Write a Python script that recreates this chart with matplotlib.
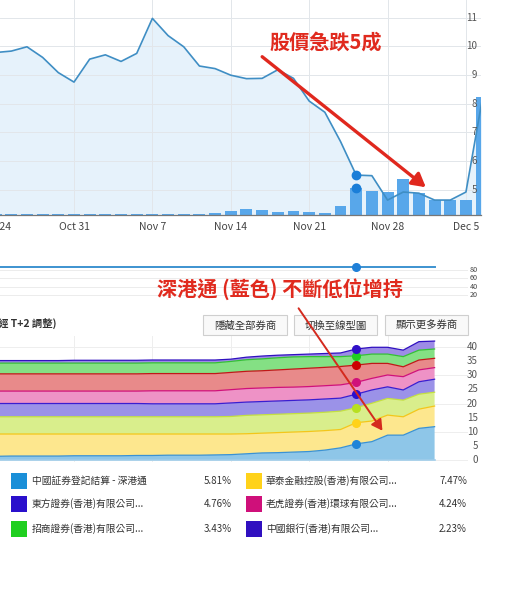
import matplotlib
matplotlib.use("Agg")
import matplotlib.pyplot as plt
import matplotlib.transforms as mtrans
import numpy as np
from matplotlib.patches import Rectangle, FancyArrowPatch

plt.rcParams['font.family'] = ['Noto Sans CJK TC', 'DejaVu Sans']

# ---- data (trading days from Oct 24) ----
price = [9.78, 9.83, 9.98, 9.61, 9.08, 8.75, 9.55, 9.70, 9.47, 9.75,
         10.97, 10.37, 9.98, 9.31, 9.22, 8.99, 8.87, 8.88, 9.18, 8.88,
         8.09, 7.70, 6.68, 5.51, 5.49, 4.64, 4.92, 4.88, 4.64, 4.64,
         4.92, 8.02]
volume = [0.5, 0.5, 0.5, 0.5, 0.5, 0.5, 0.5, 0.5, 0.5, 0.5,
          1.0, 0.5, 0.5, 0.5, 2, 4, 6, 5, 3, 4,
          3, 2, 9, 27, 24, 23, 36, 22, 15, 15,
          15, 118]
date_labels = ["Oct 24", "Oct 31", "Nov 7", "Nov 14", "Nov 21", "Nov 28", "Dec 5"]
date_pos = [0, 5, 10, 15, 20, 25, 30]
price_ticks = [5, 6, 7, 8, 9, 10, 11]

# shareholding % by broker (T+2 adjusted, Oct 24 .. Dec 1), bottom to top
ccass_sz = [1.3, 1.4, 1.4, 1.4, 1.4, 1.5, 1.5, 1.5, 1.5, 1.6, 1.6, 1.7, 1.7, 1.7, 1.8,
            1.9, 2.2, 2.5, 2.6, 2.8, 3.0, 3.5, 4.3, 5.7, 6.5, 8.8, 8.8, 11.2, 11.8]
huatai = [7.9, 7.8, 7.8, 7.8, 7.8, 7.7, 7.7, 7.7, 7.7, 7.6, 7.6, 7.5, 7.5, 7.5, 7.4,
          7.3, 7.1, 7.0, 7.1, 7.1, 7.1, 6.9, 6.5, 7.5, 7.3, 7.1, 6.5, 6.8, 7.3]
other_a = [6.1, 6.1, 6.1, 6.1, 6.1, 6.1, 6.1, 6.1, 6.1, 6.1, 6.1, 6.1, 6.1, 6.1, 6.1,
           6.2, 6.5, 6.5, 6.5, 6.5, 6.5, 6.5, 6.5, 5.3, 6.3, 5.9, 5.9, 5.3, 4.9]
dongfang = [4.7, 4.7, 4.7, 4.7, 4.7, 4.7, 4.7, 4.7, 4.7, 4.7, 4.6, 4.6, 4.6, 4.6, 4.6,
            4.8, 4.7, 4.7, 4.7, 4.7, 4.7, 4.7, 4.6, 4.8, 4.7, 4.1, 3.6, 4.4, 4.6]
tiger = [4.4, 4.4, 4.4, 4.4, 4.4, 4.4, 4.4, 4.4, 4.4, 4.4, 4.6, 4.6, 4.6, 4.6, 4.6,
         4.7, 4.8, 4.8, 4.8, 4.7, 4.7, 4.7, 4.7, 4.2, 4.1, 4.2, 4.7, 4.2, 4.1]
other_b = [6.1, 6.1, 6.1, 6.1, 6.1, 6.1, 6.1, 6.1, 6.1, 6.1, 6.1, 6.1, 6.1, 6.1, 6.1,
           6.1, 6.1, 6.1, 6.2, 6.4, 6.5, 6.5, 6.5, 6.1, 5.3, 4.1, 3.5, 3.5, 3.3]
zhaoshang = [3.8, 3.8, 3.8, 3.8, 3.8, 3.8, 3.8, 3.8, 3.8, 3.8, 3.8, 3.8, 3.8, 3.8, 3.8,
             3.9, 4.1, 4.2, 4.3, 4.3, 4.1, 3.8, 3.5, 3.3, 3.3, 3.3, 3.6, 3.5, 3.3]
boc = [0.9, 0.9, 0.9, 0.9, 0.9, 1.0, 1.0, 1.0, 1.0, 1.0, 1.0, 1.0, 1.0, 1.0, 1.0,
       0.8, 0.9, 1.0, 0.9, 0.8, 0.9, 1.1, 1.3, 2.4, 2.4, 2.4, 2.3, 3.0, 2.8]
holding_ticks = [0, 5, 10, 15, 20, 25, 30, 35, 40]
nav_values = [86.4, 86.4, 86.4, 86.4, 86.4, 86.4, 86.4, 86.4, 86.4, 86.4,
              86.4, 86.4, 86.4, 86.4, 86.4, 86.4, 86.4, 86.4, 86.4, 86.4,
              86.4, 86.4, 86.4, 86.4, 86.4, 86.4, 86.4, 86.4, 86.4]
nav_ticks = [20, 40, 60, 80]
focus_day = 23

legend_names = ["中國証券登記結算 - 深港通", "東方證券(香港)有限公司...", "招商證券(香港)有限公司...",
                "華泰金融控股(香港)有限公司...", "老虎證券(香港)環球有限公司...", "中國銀行(香港)有限公司..."]
legend_pct = ["5.81%", "4.76%", "3.43%", "7.47%", "4.24%", "2.23%"]
legend_colors = ["#1a8fd8", "#2a10cc", "#1fcf1f", "#ffd21a", "#cf107a", "#3010c0"]

layers = [ccass_sz, huatai, other_a, dongfang, tiger, other_b, zhaoshang, boc]
fills = ["#8ec6e8", "#fde78e", "#d9ee8c", "#9b92e8", "#ee92c6", "#e88a8a", "#84e084", "#9d8ce6"]
edges = ["#3a92d4", "#f3c61a", "#c4e040", "#3a1ed0", "#d0107a", "#c01818", "#34c034", "#3010c0"]
dots = ["#1f84d8", "#ffd21a", "#b8e020", "#2a10d0", "#d0107a", "#cc0000", "#20d020", "#3010c8"]

W, H = 510, 590
XLIM = (0.28, 30.96)


def box(x0, y0, x1, y1):
    return [x0 / W, 1 - y1 / H, (x1 - x0) / W, (y1 - y0) / H]


def fp(x, y):
    return (x / W, 1 - y / H)


fig = plt.figure(figsize=(5.1, 5.9), dpi=100)

# ---- top: price + volume ----
days = np.arange(len(price))
ax = fig.add_axes(box(0, 0, 481, 215), zorder=1)
ax.set_xlim(*XLIM)
ax.set_ylim(4.12, 11.61)
ax.fill_between(days, price, 0, color="#e6f2fb", lw=0, zorder=1)
for t in price_ticks:
    ax.axhline(t, color="#e2e6ea", lw=0.7, zorder=2)
for d in date_pos:
    ax.axvline(d, color="#e2e6ea", lw=0.7, zorder=2)
ax.set_xticks(date_pos[1:])
ax.set_xticklabels(date_labels[1:], fontsize=7.5, color="#444")
ax.tick_params(axis="x", length=0, pad=5)
ax.set_yticks([])
ax.text(date_pos[0], -0.055, date_labels[0], transform=mtrans.blended_transform_factory(ax.transData, ax.transAxes),
        ha="center", va="center", fontsize=7.5, color="#444", clip_on=False)
for s in ax.spines.values():
    s.set_visible(False)

axv = fig.add_axes(box(0, 0, 481, 215), zorder=2)
axv.patch.set_visible(False)
axv.set_xlim(*XLIM)
axv.set_ylim(0, 215)
axv.bar(days, volume, width=0.76, color="#58a7ea", zorder=2)
axv.plot(days[focus_day], volume[focus_day], "o", color="#1a7ed8", ms=6, zorder=3)
axv.axis("off")

axl = fig.add_axes(box(0, 0, 481, 215), zorder=3)
axl.patch.set_visible(False)
axl.set_xlim(*XLIM)
axl.set_ylim(4.12, 11.61)
axl.plot(days, price, color="#3f8ec4", lw=1.2)
axl.plot(days[focus_day], price[focus_day], "o", color="#1a7ed8", ms=6)
tr = mtrans.blended_transform_factory(axl.transAxes, axl.transData)
for t in price_ticks:
    axl.text(477 / 481, t, str(t), transform=tr, ha="right", va="center", fontsize=7, color="#555")
axl.set_xticks([])
axl.set_yticks([])
for k in ["top", "left", "right"]:
    axl.spines[k].set_visible(False)
axl.spines["bottom"].set_color("#777")
axl.spines["bottom"].set_linewidth(0.9)

# ---- navigator strip ----
axn = fig.add_axes(box(0, 262, 481, 303.3), zorder=1)
axn.set_xlim(*XLIM)
axn.set_ylim(0, 99.1)
for t in nav_ticks:
    axn.axhline(t, xmax=467 / 481, color="#ececec", lw=0.7)
    axn.text(474 / 481, t, str(t), transform=mtrans.blended_transform_factory(axn.transAxes, axn.transData),
             ha="center", va="center", fontsize=5.2, color="#444")
nd = np.arange(len(nav_values))
axn.plot(nd, nav_values, color="#3d93d0", lw=1.4)
axn.plot(nd[focus_day], nav_values[focus_day], "o", color="#1f80d8", ms=5.5)
axn.axis("off")

# ---- stacked holdings ----
hd = np.arange(len(ccass_sz))
axs = fig.add_axes(box(0, 336, 481, 462), zorder=1)
axs.set_xlim(*XLIM)
axs.set_ylim(-0.71, 43.9)
for t in [0, 10, 20, 30, 40]:
    axs.axhline(t, xmax=467 / 481, color="#eeeeee", lw=0.7, zorder=0)
for d in date_pos[1:6]:
    axs.axvline(d, color="#eeeeee", lw=0.7, zorder=0)
axs.stackplot(hd, *layers, colors=fills, lw=0, zorder=1)
tops = np.cumsum(np.array(layers), axis=0)
axs.plot(hd, np.zeros(len(hd)), color="#9fcdea", lw=1.2, zorder=2)
for top, ec, dc in zip(tops, edges, dots):
    axs.plot(hd, top, color=ec, lw=0.9, zorder=2)
    axs.plot(hd[focus_day], top[focus_day], "o", color=dc, ms=5.5, zorder=3)
tr = mtrans.blended_transform_factory(axs.transAxes, axs.transData)
for t in holding_ticks:
    axs.text(478 / 481, t, str(t), transform=tr, ha="right", va="center", fontsize=7, color="#555")
axs.axis("off")

# ---- header and buttons ----
fig.text(*fp(-2, 323), "經 T+2 調整)", fontsize=7.5, fontweight="bold", color="#333", ha="left", va="center")
buttons = [("隱藏全部券商", 203, 287), ("切換至線型圖", 294, 377), ("顯示更多券商", 385, 468)]
for label, bx0, bx1 in buttons:
    fig.add_artist(Rectangle(fp(bx0, 335), (bx1 - bx0) / W, 20 / H, transform=fig.transFigure,
                             fc="#f9f9f9", ec="#cfcfcf", lw=0.8, zorder=5))
    fig.text(*fp((bx0 + bx1) / 2, 325.5), label, fontsize=7.5, color="#333", ha="center", va="center", zorder=6)

# ---- legend ----
rows = [481, 504, 529]
for k, (name, pct, col) in enumerate(zip(legend_names, legend_pct, legend_colors)):
    c, r = divmod(k, 3)
    sx, tx, px = [(11, 32, 232), (246, 266, 467)][c]
    y = rows[r]
    fig.add_artist(Rectangle(fp(sx, y + 8), 16 / W, 16 / H, transform=fig.transFigure, fc=col, ec="none"))
    fig.text(*fp(tx, y), name, fontsize=7, color="#333", ha="left", va="center")
    fig.text(*fp(px, y), pct, fontsize=7, color="#333", ha="right", va="center")

# ---- annotations ----
fig.text(*fp(326, 42), "股價急跌5成", fontsize=14.5, fontweight="bold", color="#e02a1e",
         ha="center", va="center", zorder=10)
fig.add_artist(FancyArrowPatch(fp(260, 55), fp(428, 189), transform=fig.transFigure,
                               arrowstyle="-|>,head_length=0.8,head_width=0.45", mutation_scale=10,
                               color="#e0281e", lw=2.4, zorder=10))
fig.text(*fp(280, 289), "深港通 (藍色) 不斷低位增持", fontsize=14.5, fontweight="bold", color="#e02a1e",
         ha="center", va="center", zorder=10)
fig.add_artist(FancyArrowPatch(fp(297, 306), fp(384, 433), transform=fig.transFigure,
                               arrowstyle="-|>,head_length=0.8,head_width=0.45", mutation_scale=8,
                               color="#d42a1e", lw=1.4, zorder=10))

fig.savefig("out.png", dpi=100)
